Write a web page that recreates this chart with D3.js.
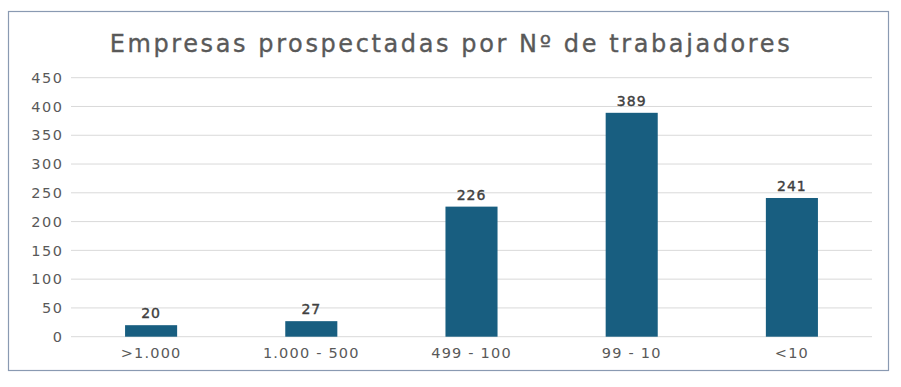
<!DOCTYPE html>
<html>
<head>
<meta charset="utf-8">
<script src="https://cdn.jsdelivr.net/npm/d3@7"></script>
<style>
  html, body { margin: 0; padding: 0; background: #fff; }
  svg { display: block; font-family: 'DejaVu Sans', sans-serif; }
</style>
</head>
<body>
<svg id="chart"></svg>
<script>
const title = 'Empresas prospectadas por N\u00ba de trabajadores';
const categories = ['>1.000', '1.000 - 500', '499 - 100', '99 - 10', '<10'];
const values = [20, 27, 226, 389, 241];
const yTicks = [0, 50, 100, 150, 200, 250, 300, 350, 400, 450];

const width = 901;
const height = 387;
const margin = { top: 77.7, right: 29, bottom: 50.3, left: 71 };

const svg = d3.select('#chart').attr('width', width).attr('height', height);

svg
  .append('rect')
  .attr('x', 8.5)
  .attr('y', 11.5)
  .attr('width', 880)
  .attr('height', 359)
  .attr('fill', '#fff')
  .attr('stroke', '#8a9ab2')
  .attr('stroke-width', 1.2);

svg
  .append('text')
  .attr('x', 451)
  .attr('y', 52)
  .attr('text-anchor', 'middle')
  .attr('fill', '#595959')
  .attr('stroke', '#595959')
  .attr('stroke-width', 0.35)
  .attr('font-size', 24)
  .attr('letter-spacing', 2.6)
  .text(title);

const x = d3
  .scaleBand()
  .domain(categories)
  .range([margin.left, width - margin.right])
  .paddingInner(0.675)
  .paddingOuter(0.3375);

const y = d3
  .scaleLinear()
  .domain([0, 450])
  .range([height - margin.bottom, margin.top]);

// grid lines
svg
  .append('g')
  .selectAll('line')
  .data(yTicks)
  .enter()
  .append('line')
  .attr('x1', margin.left)
  .attr('x2', width - margin.right)
  .attr('y1', (d) => y(d))
  .attr('y2', (d) => y(d))
  .attr('stroke', '#d9d9d9')
  .attr('stroke-width', 1);

const yAxis = svg
  .append('g')
  .attr('transform', `translate(${margin.left},0)`)
  .call(d3.axisLeft(y).tickValues(yTicks).tickSize(0).tickPadding(7.5));
yAxis.select('.domain').remove();
yAxis
  .selectAll('text')
  .attr('fill', '#595959')
  .attr('font-size', 14.5)
  .attr('letter-spacing', 1.5)
  .attr('font-family', "'DejaVu Sans', sans-serif");

svg
  .selectAll('rect.bar')
  .data(values)
  .enter()
  .append('rect')
  .attr('class', 'bar')
  .attr('x', (_, i) => x(categories[i]))
  .attr('y', (d) => y(d))
  .attr('width', x.bandwidth())
  .attr('height', (d) => y(0) - y(d))
  .attr('fill', '#185e80');

svg
  .selectAll('text.val')
  .data(values)
  .enter()
  .append('text')
  .attr('class', 'val')
  .attr('x', (_, i) => x(categories[i]) + x.bandwidth() / 2)
  .attr('y', (d) => y(d) - 7)
  .attr('text-anchor', 'middle')
  .attr('fill', '#404040')
  .attr('stroke', '#404040')
  .attr('stroke-width', 0.4)
  .attr('font-size', 14)
  .attr('letter-spacing', 1)
  .text((d) => d);

const xAxis = svg
  .append('g')
  .attr('transform', `translate(0,${y(0)})`)
  .call(d3.axisBottom(x).tickSize(0).tickPadding(11));
xAxis.select('.domain').remove();
xAxis
  .selectAll('text')
  .attr('fill', '#595959')
  .attr('font-size', 14.5)
  .attr('letter-spacing', 1.2)
  .attr('font-family', "'DejaVu Sans', sans-serif");
</script>
</body>
</html>
